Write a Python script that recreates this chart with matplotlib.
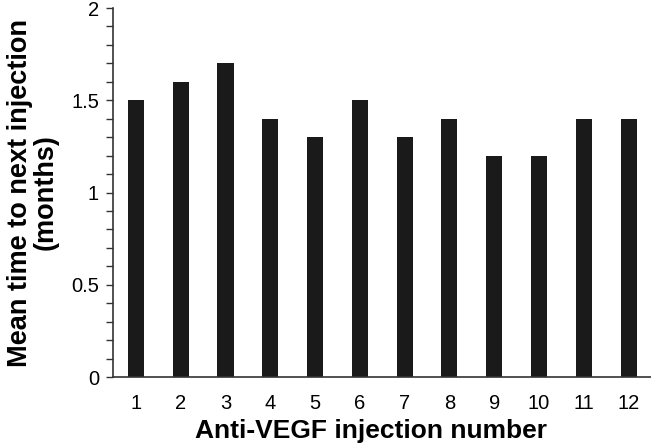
import matplotlib
matplotlib.use('Agg')
import matplotlib.pyplot as plt
import numpy as np

injection = [1, 2, 3, 4, 5, 6, 7, 8, 9, 10, 11, 12]
mean_time = [1.5, 1.6, 1.7, 1.4, 1.3, 1.5, 1.3, 1.4, 1.2, 1.2, 1.4, 1.4]

plt.rcParams['font.family'] = ['Liberation Sans', 'DejaVu Sans']

fig = plt.figure(figsize=(6.51, 4.46), dpi=100)
ax = fig.add_axes([0.1736, 0.1547, 0.8264, 0.8273])

ax.bar(injection, mean_time, width=0.36, color='#1a1a1a')

ax.set_xlim(0.49, 12.5)
ax.set_ylim(0, 2)
ax.set_xticks(injection)
ax.set_yticks([0, 0.5, 1, 1.5, 2])
ax.set_yticklabels(['0', '0.5', '1', '1.5', '2'])
ax.set_yticks(np.arange(0, 2.01, 0.1), minor=True)
ax.tick_params(axis='y', which='both', direction='out', length=5, width=1, labelsize=14.5, color='#333333', pad=5)
ax.tick_params(axis='x', length=0, labelsize=14.5, pad=12)

for s in ['top', 'right']:
    ax.spines[s].set_visible(False)
for s in ['left', 'bottom']:
    ax.spines[s].set_color('#333333')
    ax.spines[s].set_linewidth(1.2)

ax.set_xlabel('Anti-VEGF injection number', fontsize=19, fontweight='bold')
ax.xaxis.set_label_coords(0.48, -0.115)
ax.set_ylabel('Mean time to next injection\n(months)', fontsize=19.5, fontweight='bold', labelpad=9, linespacing=1.0)

fig.savefig('out.png', dpi=100)
